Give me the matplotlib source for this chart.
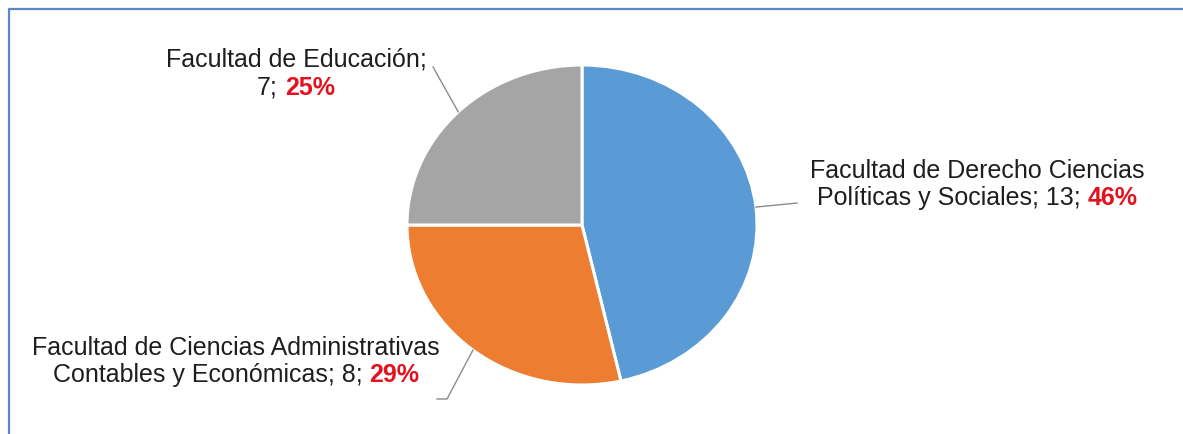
import numpy as np
import matplotlib
matplotlib.use("Agg")
import matplotlib.pyplot as plt
from matplotlib.lines import Line2D
from matplotlib.transforms import IdentityTransform

plt.rcParams["font.family"] = ["Liberation Sans", "DejaVu Sans"]

# ---- data ----
facultades = [
    "Facultad de Derecho Ciencias Políticas y Sociales",
    "Facultad de Ciencias Administrativas Contables y Económicas",
    "Facultad de Educación",
]
cantidades = [13, 8, 7]
colores = ["#5B9BD5", "#ED7D31", "#A5A5A5"]
linea1 = ["Facultad de Derecho Ciencias",
          "Facultad de Ciencias Administrativas",
          "Facultad de Educación;"]
linea2 = ["Políticas y Sociales; {n};",
          "Contables y Económicas; {n};",
          "{n};"]

# ---- layout (image pixels, y from top) ----
W, H = 1183, 435
cx, cy, rx, ry = 582, 226, 175, 160
label_pos = [(977, 178, 205), (236, 355, 382), (296, 67, 95)]
leader_end = [[(797, 204)], [(447, 400), (437, 400)], [(433, 68)]]
fs = 18
txt_color = "#1E1E1E"
red = "#E3121E"

fig = plt.figure(figsize=(W / 100, H / 100), dpi=100)
pad = 1.05
ax = fig.add_axes([(cx - rx * pad) / W, (H - cy - ry * pad) / H,
                   2 * rx * pad / W, 2 * ry * pad / H])
wedges, _ = ax.pie(cantidades, colors=colores, startangle=90, counterclock=False,
                   wedgeprops=dict(edgecolor="white", linewidth=2.2))
ax.set_aspect("auto")
ax.set_xlim(-pad, pad)
ax.set_ylim(-pad, pad)

ident = IdentityTransform()
renderer = fig.canvas.get_renderer()
total = sum(cantidades)

for w, n, l1, l2, (lx, b1, b2), ends in zip(wedges, cantidades, linea1, linea2,
                                            label_pos, leader_end):
    # leader line from the slice middle to the label
    mid = np.deg2rad((w.theta1 + w.theta2) / 2)
    px, py = ax.transData.transform((np.cos(mid), np.sin(mid)))
    xs = [px] + [e[0] for e in ends]
    ys = [py] + [H - e[1] for e in ends]
    fig.add_artist(Line2D(xs, ys, transform=ident, color="#8C8C8C", lw=1.0))

    fig.text(lx, H - b1, l1, transform=ident, ha="center", va="baseline",
             fontsize=fs, color=txt_color)
    ta = fig.text(0, H - b2, l2.format(n=n), transform=ident, ha="left",
                  va="baseline", fontsize=fs, color=txt_color)
    tb = fig.text(0, H - b2, f"{round(100 * n / total)}%", transform=ident,
                  ha="left", va="baseline", fontsize=fs, color=red,
                  fontweight="bold")
    wa = ta.get_window_extent(renderer).width
    wb = tb.get_window_extent(renderer).width
    gap = fs * 100 / 72 * 0.278
    x0 = lx - (wa + gap + wb) / 2
    ta.set_x(x0)
    tb.set_x(x0 + wa + gap)

# frame
fig.add_artist(Line2D([9, 9, W], [0, H - 10, H - 10], transform=ident,
                      color="#5B87C5", lw=1.6))

fig.savefig("out.png", dpi=100, facecolor="white")
